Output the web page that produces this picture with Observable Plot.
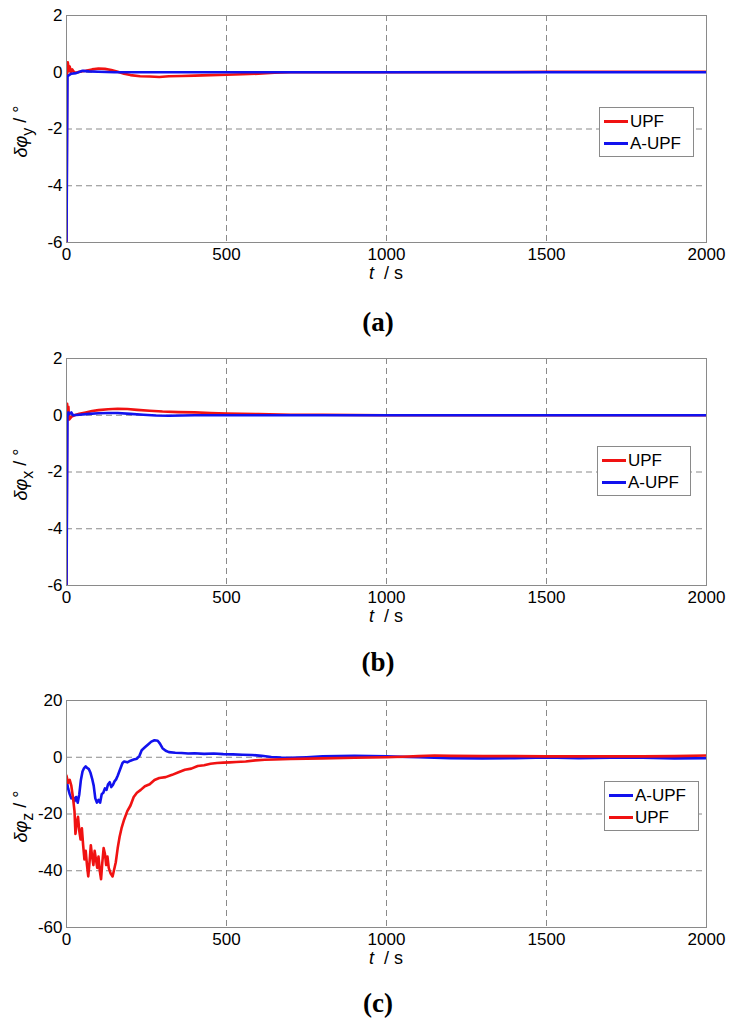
<!DOCTYPE html>
<html>
<head>
<meta charset="utf-8">
<script src="https://cdn.jsdelivr.net/npm/d3@7"></script>
<script src="https://cdn.jsdelivr.net/npm/@observablehq/plot@0.6"></script>
<style>
  body { margin: 0; background: #fff; }
  #root { position: relative; width: 730px; height: 1025px; overflow: hidden; font-family: "Liberation Sans", Arial, sans-serif; }
  .panel { position: absolute; left: 0; }
  .cap { position: absolute; left: 328px; width: 100px; text-align: center; font: bold 27px "Liberation Serif", "Times New Roman", serif; line-height: 30px; }
  .legend { position: absolute; box-sizing: border-box; border: 1px solid #8a8a8a; background: #fff; font: 17px "Liberation Sans", Arial, sans-serif; color: #000; }
  .row { position: absolute; left: 4px; display: flex; align-items: center; height: 21px; }
  .swatch { display: inline-block; width: 24px; height: 3px; margin-right: 2px; }
</style>
</head>
<body>
<div id="root"></div>
<script>
// ---------- data ----------
const xTicks = [0, 500, 1000, 1500, 2000];

const yTicksAB = [-6, -4, -2, 0, 2];
const yTicksC = [-60, -40, -20, 0, 20];

const seriesNames = ["UPF", "A-UPF"];
const colorUPF = "#f01212";
const colorAUPF = "#1212ee";

// Panel (a): δφy, [t, value]
const aUPF = [[0,-6],[2,0.1],[4,0.35],[6,0.2],[8,0.05],[10,0.2],[14,0.0],[18,0.1],[24,0.0],[30,-0.02],[40,0.02],[60,0.05],[80,0.1],[100,0.13],[120,0.12],[140,0.08],[160,0.02],[180,-0.05],[200,-0.1],[230,-0.14],[260,-0.15],[290,-0.17],[320,-0.14],[360,-0.13],[400,-0.12],[450,-0.1],[500,-0.09],[550,-0.07],[600,-0.05],[650,-0.02],[700,0.0],[1000,0.0],[1370,0.01],[1500,0.02],[1750,0.02],[2000,0.02]];
const aAUPF = [[0,-6],[3,-0.15],[8,-0.1],[15,-0.05],[30,-0.03],[50,0.05],[70,0.03],[100,0.02],[150,0.0],[500,0.0],[1000,0.0],[1500,0.0],[2000,0.0]];

// Panel (b): δφx
const bUPF = [[0,-6],[2,0.4],[4,-0.1],[6,0.3],[8,-0.15],[12,-0.1],[16,-0.05],[25,0.0],[40,0.05],[60,0.1],[80,0.15],[100,0.18],[130,0.21],[160,0.23],[190,0.22],[220,0.19],[260,0.16],[300,0.13],[350,0.11],[400,0.1],[450,0.08],[500,0.06],[600,0.04],[700,0.02],[800,0.02],[1000,0.0],[1500,0.0],[2000,0.0]];
const bAUPF = [[0,-6],[3,-0.05],[6,0.1],[10,0.05],[15,0.1],[20,0.0],[40,0.02],[70,0.05],[100,0.07],[130,0.08],[160,0.08],[200,0.05],[240,0.02],[280,-0.01],[320,-0.02],[400,0.0],[1000,0.0],[1500,0.0],[2000,0.0]];

// Panel (c): δφz
const cUPF = [[0,-6.5],[5,-9],[10,-8],[15,-10],[20,-14],[25,-19],[28,-27],[32,-23],[36,-21],[40,-26],[44,-29],[48,-25],[52,-31],[56,-36],[60,-33],[64,-38],[68,-42],[72,-37],[76,-31],[80,-35],[84,-38],[88,-33],[92,-36],[96,-39],[100,-35],[104,-40],[108,-43],[112,-37],[116,-32],[120,-34],[124,-38],[128,-35],[132,-39],[138,-41],[144,-42],[148,-40],[154,-37],[160,-32],[166,-28],[172,-25],[180,-22],[190,-19],[200,-17],[210,-14],[220,-12.5],[232,-11.5],[245,-10.2],[260,-9.5],[275,-8],[290,-7.3],[310,-7],[330,-6.2],[350,-5.3],[370,-4.4],[390,-4],[410,-3.1],[430,-2.8],[450,-2.3],[470,-2.0],[490,-1.9],[510,-1.8],[530,-1.7],[560,-1.5],[590,-1.1],[620,-0.9],[650,-0.8],[700,-0.6],[800,-0.4],[900,-0.2],[1000,0.0],[1050,0.2],[1100,0.4],[1150,0.6],[1200,0.5],[1300,0.4],[1400,0.4],[1500,0.3],[1600,0.3],[1700,0.3],[1800,0.3],[1900,0.4],[2000,0.6]];
const cAUPF = [[0,-8],[5,-11],[10,-13],[15,-14.5],[20,-14],[25,-15.5],[30,-14],[35,-16],[40,-13],[45,-8],[50,-5],[55,-3.8],[60,-3.2],[65,-3.8],[70,-4.2],[75,-5.5],[80,-7.5],[85,-10],[90,-14.5],[95,-16],[100,-15],[105,-16],[110,-13],[115,-12.5],[120,-11],[125,-11.5],[130,-9.5],[135,-8.8],[140,-10.5],[145,-9.8],[150,-8.5],[155,-7.8],[160,-6.5],[165,-5],[170,-3.5],[175,-2],[180,-1.5],[190,-1.8],[200,-1.2],[210,-0.8],[220,-0.5],[228,0.5],[235,2.5],[245,3.5],[255,4.5],[265,5.5],[275,6],[285,5.8],[292,4.8],[300,3.2],[310,2.3],[320,1.8],[340,1.6],[360,1.5],[380,1.3],[400,1.4],[430,1.2],[460,1.3],[490,1.1],[520,1.0],[550,0.9],[580,0.8],[610,0.5],[640,0.1],[670,-0.1],[700,-0.2],[750,0.0],[800,0.3],[900,0.5],[1000,0.3],[1100,0.0],[1200,-0.3],[1300,-0.4],[1400,-0.3],[1500,-0.1],[1600,-0.3],[1700,-0.2],[1800,-0.2],[1900,-0.4],[2000,-0.3]];

// ---------- drawing ----------
const root = document.getElementById("root");
const gridStyle = { stroke: "#8a8a8a", strokeOpacity: 1, strokeDasharray: "6,4", strokeWidth: 1 };

function makePanel(cfg) {
  const wrap = document.createElement("div");
  wrap.className = "panel";
  wrap.style.top = cfg.top + "px";
  root.appendChild(wrap);

  const lines = cfg.series.map(s => Plot.line(s.data, {
    x: d => d[0], y: d => d[1], stroke: s.color, strokeWidth: 2.6, strokeLinejoin: "round", clip: true
  }));

  const chart = Plot.plot({
    width: 730, height: 290,
    marginLeft: 66, marginRight: 24, marginTop: 15, marginBottom: 48,
    style: { fontFamily: "Liberation Sans, Arial, sans-serif", fontSize: "17px", background: "white", color: "#000", overflow: "visible" },
    x: { domain: [0, 2000] },
    y: { domain: [cfg.yticks[0], cfg.yticks[cfg.yticks.length - 1]] },
    marks: [
      Plot.gridX(xTicks.slice(1, -1), gridStyle),
      Plot.gridY(cfg.yticks.slice(1, -1), gridStyle),
      ...lines,
      Plot.frame({ stroke: "#8a8a8a", strokeWidth: 1 }),
      Plot.axisX(xTicks, { tickSize: 0, tickPadding: 5, label: null, fontSize: 17, tickFormat: d => String(d) }),
      Plot.axisY(cfg.yticks, { tickSize: 0, tickPadding: 4, label: null, fontSize: 17, tickFormat: d => String(d) })
    ]
  });
  wrap.appendChild(chart);

  const sx = chart.scale("x"), sy = chart.scale("y");
  const svg = d3.select(chart);
  // x label: t / s
  const xl = svg.append("text")
    .attr("x", sx.apply(1000)).attr("y", 279)
    .attr("text-anchor", "middle")
    .attr("font-size", 18).attr("fill", "#000");
  xl.append("tspan").attr("font-style", "italic").text("t");
  xl.append("tspan").text("  / s");

  // y label: δφ_sub / °
  const midY = (sy.apply(cfg.yticks[0]) + sy.apply(cfg.yticks[cfg.yticks.length - 1])) / 2;
  const yl = svg.append("text")
    .attr("transform", `translate(27,${midY + 3}) rotate(-90)`)
    .attr("text-anchor", "middle")
    .attr("font-size", 18).attr("fill", "#000");
  yl.append("tspan").attr("font-style", "italic").text("δφ");
  yl.append("tspan").attr("dy", "0.35em").attr("font-size", 16).text(cfg.sub);
  yl.append("tspan").attr("dy", "-0.35em").text(" / °");

  // legend
  const lg = document.createElement("div");
  lg.className = "legend";
  lg.style.left = cfg.legend.left + "px";
  lg.style.top = cfg.legend.top + "px";
  lg.style.width = cfg.legend.width + "px";
  lg.style.height = "50px";
  cfg.legend.items.forEach((it, i) => {
    const row = document.createElement("div");
    row.className = "row";
    row.style.top = (3 + i * 22) + "px";
    const sw = document.createElement("span");
    sw.className = "swatch";
    sw.style.background = it.color;
    const tx = document.createElement("span");
    tx.textContent = it.name;
    row.appendChild(sw); row.appendChild(tx);
    lg.appendChild(row);
  });
  wrap.appendChild(lg);

  const cap = document.createElement("div");
  cap.className = "cap";
  cap.style.top = (cfg.captionY - 15) + "px";
  cap.textContent = cfg.caption;
  root.appendChild(cap);
}

makePanel({
  top: 0, yticks: yTicksAB, sub: "y", caption: "(a)", captionY: 322,
  series: [{ data: aUPF, color: colorUPF }, { data: aAUPF, color: colorAUPF }],
  legend: { left: 599, top: 107, width: 95, items: [{ name: seriesNames[0], color: colorUPF }, { name: seriesNames[1], color: colorAUPF }] }
});
makePanel({
  top: 343, yticks: yTicksAB, sub: "x", caption: "(b)", captionY: 662,
  series: [{ data: bUPF, color: colorUPF }, { data: bAUPF, color: colorAUPF }],
  legend: { left: 597, top: 103, width: 94, items: [{ name: seriesNames[0], color: colorUPF }, { name: seriesNames[1], color: colorAUPF }] }
});
makePanel({
  top: 685, yticks: yTicksC, sub: "z", caption: "(c)", captionY: 1003,
  series: [{ data: cAUPF, color: colorAUPF }, { data: cUPF, color: colorUPF }],
  legend: { left: 604, top: 96, width: 95, items: [{ name: seriesNames[1], color: colorAUPF }, { name: seriesNames[0], color: colorUPF }] }
});
</script>
</body>
</html>
